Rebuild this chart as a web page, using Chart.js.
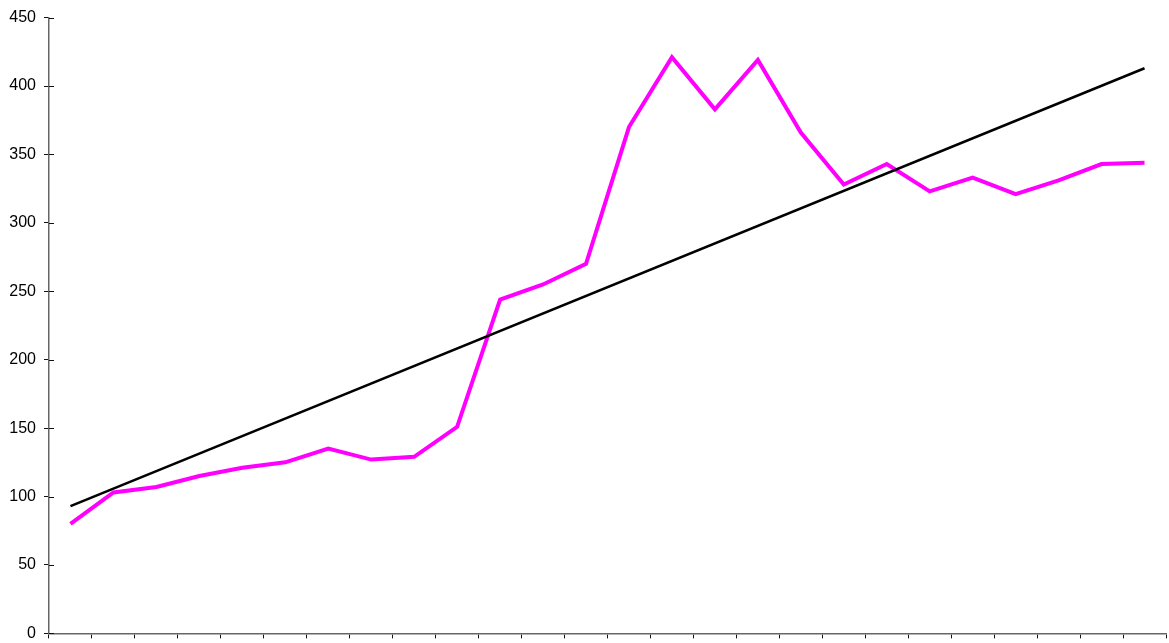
<!DOCTYPE html>
<html>
<head>
<meta charset="utf-8">
<script src="https://cdn.jsdelivr.net/npm/chart.js@4"></script>
<style>
  html, body { margin: 0; padding: 0; background: #fff; overflow: hidden; }
  #wrap { width: 1169px; height: 651px; }
</style>
</head>
<body>
<div id="wrap"><canvas id="chart"></canvas></div>
<script>
// 26 periods, no labels on the x axis in the original
const periods = ['1','2','3','4','5','6','7','8','9','10','11','12','13',
                 '14','15','16','17','18','19','20','21','22','23','24','25','26'];
const values = [80, 103, 107, 115, 121, 125, 135, 127, 129, 151, 244, 255, 270,
                370, 421, 383, 419, 366, 328, 343, 323, 333, 321, 331, 343, 344];
// trend line, read at its two ends
const trend = [93, null, null, null, null, null, null, null, null, null, null, null, null,
               null, null, null, null, null, null, null, null, null, null, null, null, 413];
const yMin = 0, yMax = 450, yStep = 50;

// small tick stubs on the inner side of the y axis
const innerTicks = {
    id: 'innerTicks',
    afterDraw(chart) {
        const y = chart.scales.y;
        const c = chart.ctx;
        c.save();
        c.strokeStyle = '#111';
        c.lineWidth = 1;
        c.beginPath();
        for (let v = yMin; v <= yMax; v += yStep) {
            const py = Math.round(y.getPixelForValue(v)) + 0.5;
            c.moveTo(y.right, py);
            c.lineTo(y.right + 5, py);
        }
        c.stroke();
        c.restore();
    }
};

const ctx = document.getElementById('chart');

const graph = new Chart(ctx, {
    type: 'line',
    data: {
        labels: periods,
        datasets: [{
            data: trend,
            borderColor: '#000',
            borderWidth: 2.5,
            pointRadius: 0,
            spanGaps: true,
            fill: false,
            tension: 0
        }, {
            data: values,
            borderColor: '#ff00ff',
            borderWidth: 4,
            pointRadius: 0,
            fill: false,
            tension: 0
        }]
    },
    options: {
        responsive: true,
        maintainAspectRatio: false,
        animation: false,
        layout: { padding: { top: 6, right: 3, left: 0, bottom: 0 } },
        plugins: {
            legend: { display: false },
            tooltip: { enabled: false }
        },
        scales: {
            x: {
                offset: true,
                grid: {
                    offset: true,
                    drawOnChartArea: false,
                    drawTicks: true,
                    tickLength: 5,
                    color: '#111'
                },
                border: { color: '#666', width: 1.5 },
                ticks: { display: false },
                afterFit(scale) { scale.height = 2; }
            },
            y: {
                min: yMin,
                max: yMax,
                grid: {
                    drawOnChartArea: false,
                    drawTicks: true,
                    tickLength: 5,
                    color: '#111'
                },
                border: { color: '#666', width: 1.5 },
                ticks: {
                    stepSize: yStep,
                    padding: 8,
                    color: '#000',
                    font: { family: 'Liberation Sans, Arial, sans-serif', size: 16 }
                },
                afterFit(scale) { scale.width = 49; }
            }
        }
    },
    plugins: [innerTicks]
});
</script>
</body>
</html>
